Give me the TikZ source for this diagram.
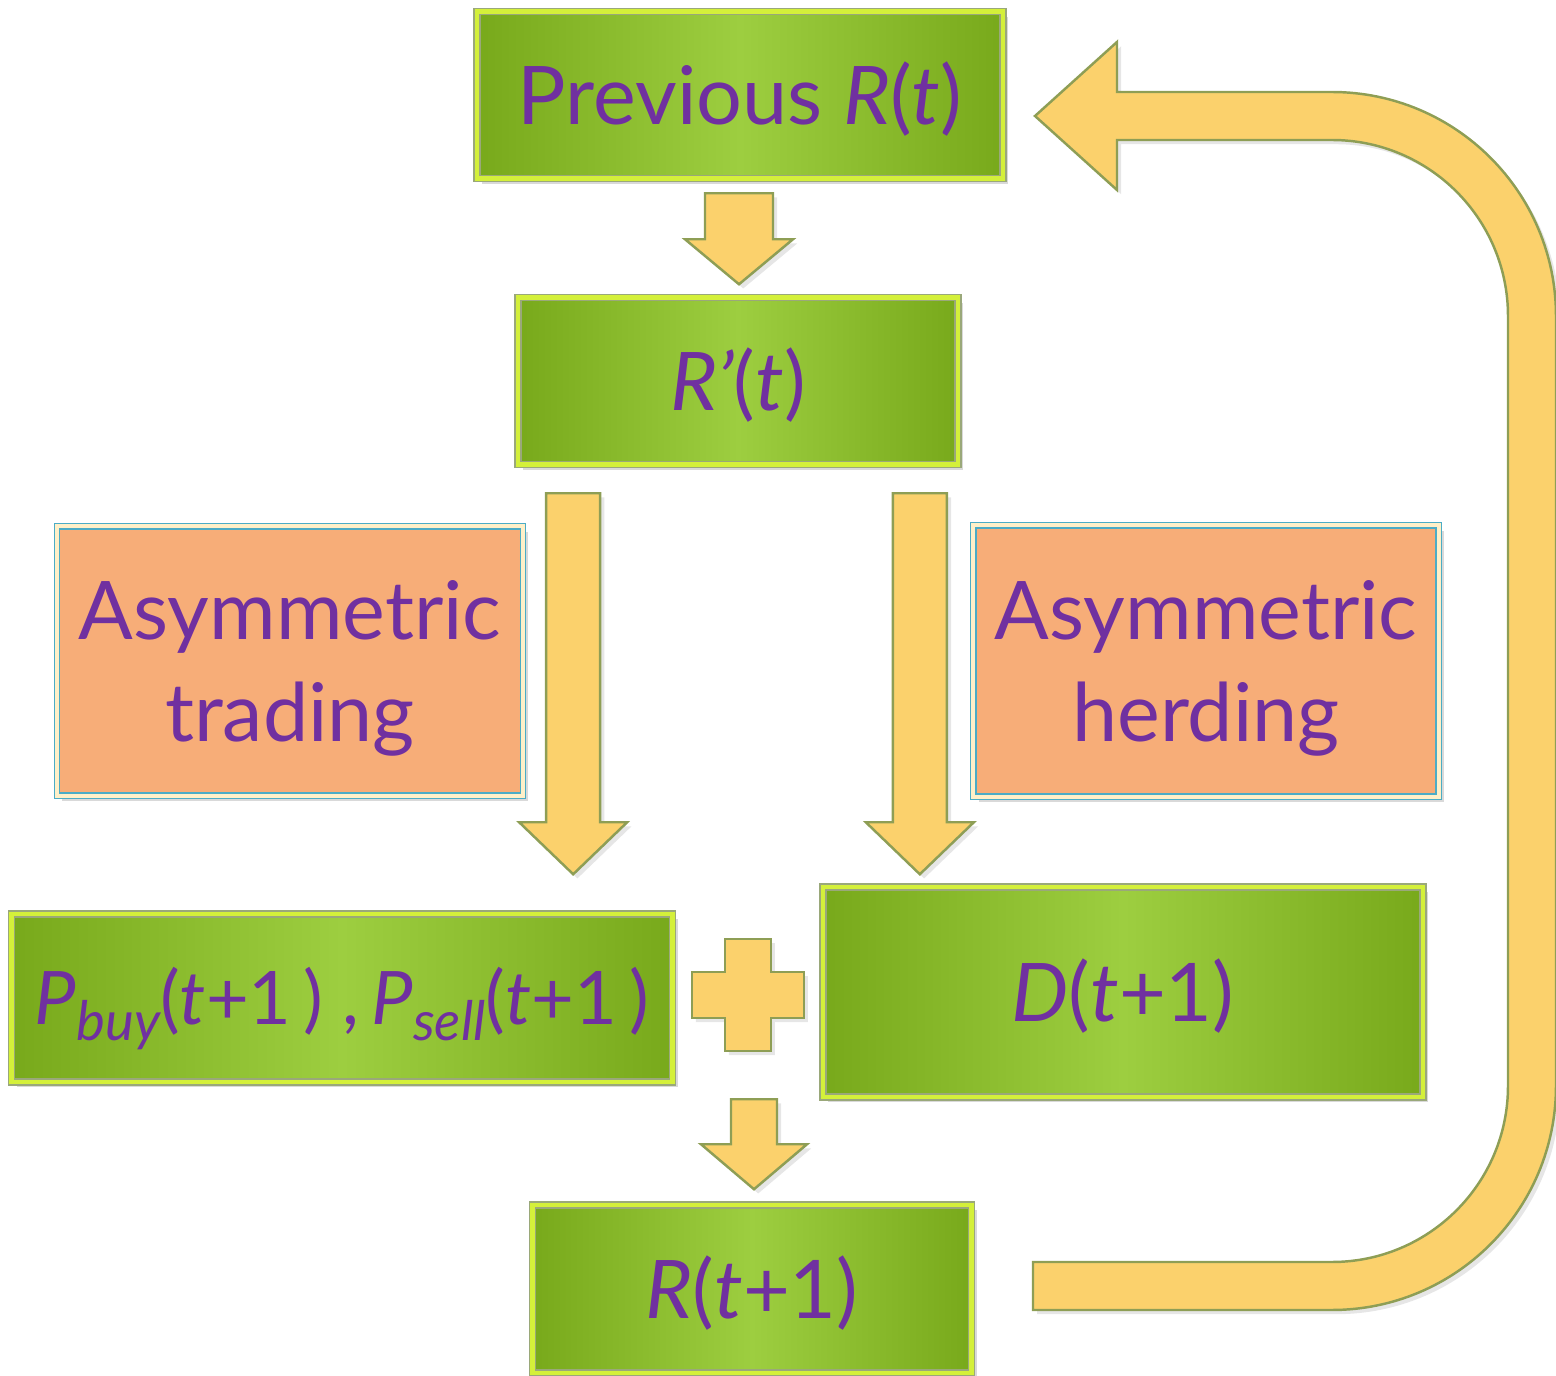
\documentclass[tikz,border=0pt]{standalone}
\usepackage{fontspec}
\setmainfont{Lato}
\usetikzlibrary{positioning,calc,shadows}

\definecolor{boxdark}{HTML}{78A91B}
\definecolor{boxlight}{HTML}{9DCE40}
\definecolor{boxrim}{HTML}{D4F03A}
\definecolor{boxline}{HTML}{9AA87A}
\definecolor{notefill}{HTML}{F7AD78}
\definecolor{noterim}{HTML}{FFF0C8}
\definecolor{noteline}{HTML}{4BACC6}
\definecolor{textpurple}{HTML}{7030A0}
\definecolor{arrowfill}{HTML}{FBD16C}
\definecolor{arrowline}{HTML}{8E9E55}

% block arrow pointing down: start, shaft half width, head half width, length, head length
\newcommand{\downblock}[5]{%
  \filldraw[blockarr, shift={(#1)}] (-#2,0) -- (#2,0) -- (#2,#4-#5) -- (#3,#4-#5)
    -- (0,#4) -- (-#3,#4-#5) -- (-#2,#4-#5) -- cycle;}

\begin{document}
\begin{tikzpicture}[
        x=0.01cm, y=-0.01cm,
        stage/.style={
            rectangle,
            draw=boxline,
            double=boxrim,
            double distance=1.3pt,
            left color=boxdark,
            right color=boxdark,
            middle color=boxlight,
            text=textpurple,
            inner sep=0pt,
            align=center,
            text height=16.5pt,
            text depth=0pt,
            font=\fontsize{23}{28}\selectfont,
            drop shadow={opacity=0.3, shadow xshift=1.5pt, shadow yshift=-1.5pt}
        },
        note/.style={
            rectangle,
            draw=noteline,
            double=noterim,
            double distance=1.1pt,
            fill=notefill,
            text=textpurple,
            inner sep=0pt,
            align=center,
            text depth=0pt,
            font=\fontsize{23}{29}\selectfont,
            drop shadow={opacity=0.3, shadow xshift=1.5pt, shadow yshift=-1.5pt}
        },
        blockarr/.style={
            fill=arrowfill,
            draw=arrowline,
            line width=0.7pt,
            line join=miter,
            drop shadow={opacity=0.2, shadow xshift=1.2pt, shadow yshift=-1.2pt}
        }
    ]
        \useasboundingbox (0,0) rectangle (1556,1376);

        % Main chain
        \node[stage, minimum width=5.26cm, minimum height=1.67cm] (prev) at (740,95) {Previous \textit{R}(\textit{t})};
        \node[stage, minimum width=4.40cm, minimum height=1.67cm] (rp) at (738,381) {\textit{R’}(\textit{t})};

        % Side notes
        \node[note, minimum width=4.66cm, minimum height=2.69cm] (trade) at (290,661) {Asymmetric\\trading};
        \node[note, minimum width=4.65cm, minimum height=2.71cm] (herd) at (1206,661) {Asymmetric\\herding};

        % Probabilities and demand
        \node[stage, minimum width=6.61cm, minimum height=1.68cm, text height=15pt, font=\fontsize{21}{26}\selectfont] (pbox) at (342,998)
            {\textit{P}\raisebox{-0.16cm}{\fontsize{15.5}{16}\selectfont\itshape buy}(\textit{t}+1\,) ,\,\textit{P}\raisebox{-0.16cm}{\fontsize{15.5}{16}\selectfont\itshape sell}(\textit{t}+1\,)};
        \node[stage, minimum width=6.00cm, minimum height=2.10cm] (dbox) at (1123,992) {\textit{D}(\textit{t}+1)};

        % Result
        \node[stage, minimum width=4.39cm, minimum height=1.68cm] (rt) at (752,1289) {\textit{R}(\textit{t}+1)};

        % Arrow anchors
        \coordinate (a1) at ($(prev.south)+(-1,14)$);
        \coordinate (a2) at ($(rp.south west)+(56,28)$);
        \coordinate (a3) at ($(rp.south east)+(-39,28)$);
        \coordinate (a4) at ($(rt.north)+(2,-105)$);
        \coordinate (plus) at ($(pbox.east)!0.5!(dbox.west)$);

        % Down arrows
        \downblock{a1}{34}{54}{91}{45}
        \downblock{a2}{27}{54}{381}{52}
        \downblock{a3}{27}{54}{381}{52}
        \downblock{a4}{23}{53}{90}{45}

        % Plus sign
        \filldraw[blockarr, shift={(plus)}] (-23,-56) -- (23,-56) -- (23,-23) -- (56,-23) -- (56,23)
            -- (23,23) -- (23,56) -- (-23,56) -- (-23,23) -- (-56,23) -- (-56,-23) -- (-23,-23) -- cycle;

        % Feedback loop
        \filldraw[blockarr] (1033,1262) [rounded corners=1.76cm] -- (1508,1262) -- (1508,140)
            [sharp corners] -- (1117,140) -- (1117,190) -- (1035,116) -- (1117,42) -- (1117,92)
            [rounded corners=2.24cm] -- (1556,92) -- (1556,1310)
            [sharp corners] -- (1033,1310) -- cycle;
    \end{tikzpicture}
\end{document}
